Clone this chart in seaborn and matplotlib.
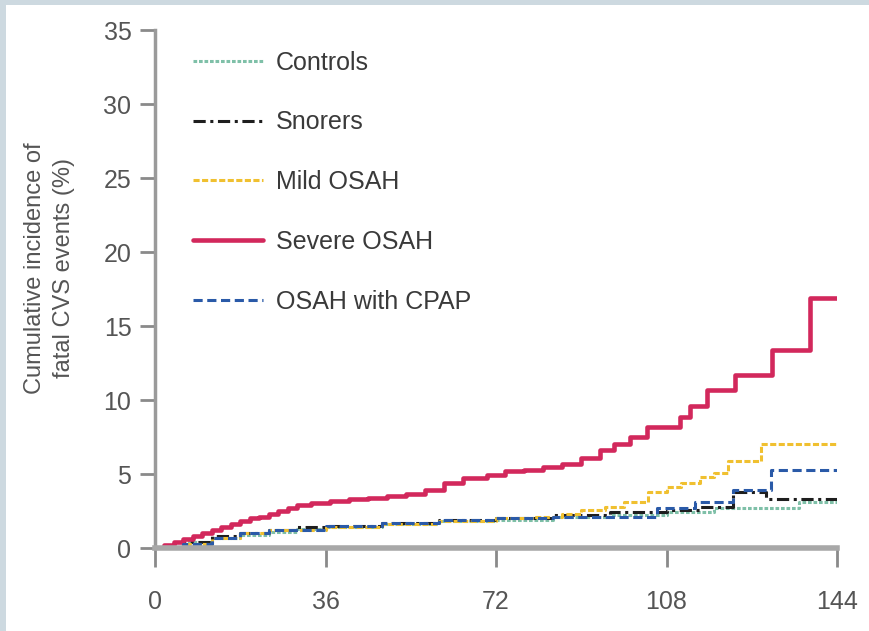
import numpy as np
import pandas as pd
import matplotlib
matplotlib.use("Agg")
import matplotlib.pyplot as plt
from matplotlib.patches import Rectangle
import seaborn as sns

# ---------------- data ----------------
controls_t = [0, 6, 12, 18, 24, 30, 36, 48, 60, 72, 84, 96, 108, 118, 136, 144]
controls_v = [0, 0.4, 0.7, 0.9, 1.1, 1.3, 1.4, 1.6, 1.8, 1.9, 2.1, 2.2, 2.4, 2.7, 3.1, 3.1]

snorers_t = [0, 6, 12, 18, 24, 30, 36, 48, 60, 72, 84, 96, 108, 115, 122, 129, 144]
snorers_v = [0, 0.4, 0.8, 1.0, 1.2, 1.4, 1.5, 1.7, 1.9, 2.0, 2.2, 2.4, 2.6, 2.8, 3.8, 3.3, 3.3]

mild_t = [0, 6, 12, 18, 24, 36, 48, 60, 72, 80, 86, 90, 95, 99, 104, 108, 111, 115, 118, 121, 128, 144]
mild_v = [0, 0.3, 0.7, 1.0, 1.2, 1.4, 1.6, 1.8, 2.0, 2.1, 2.3, 2.6, 2.8, 3.1, 3.8, 4.1, 4.4, 4.8, 5.1, 5.9, 7.0, 7.0]

severe_t = [0, 2, 4, 6, 8, 10, 12, 14, 16, 18, 20, 22, 24, 26, 28, 30, 33, 37, 41, 45, 49, 53, 57, 61, 65, 70, 74,
            78, 82, 86, 90, 94, 97, 100.3, 103.9, 110.8, 113, 116.5, 122.5, 130.3, 138.3, 144]
severe_v = [0, 0.2, 0.4, 0.6, 0.8, 1.0, 1.2, 1.4, 1.6, 1.8, 2.0, 2.1, 2.3, 2.5, 2.7, 2.9, 3.05, 3.2, 3.3, 3.4, 3.5,
            3.65, 3.9, 4.4, 4.7, 4.9, 5.2, 5.3, 5.5, 5.7, 6.1, 6.6, 7.0, 7.5, 8.2, 8.85, 9.6, 10.7, 11.7, 13.4,
            16.9, 16.9]

cpap_t = [0, 6, 12, 18, 24, 36, 48, 60, 72, 84, 90, 106, 114, 122, 130, 144]
cpap_v = [0, 0.3, 0.7, 1.0, 1.2, 1.5, 1.7, 1.9, 2.0, 2.1, 2.1, 2.7, 3.1, 3.9, 5.3, 5.3]

series_names = ["Controls", "Snorers", "Mild OSAH", "Severe OSAH", "OSAH with CPAP"]
x_ticks = [0, 36, 72, 108, 144]
y_ticks = [0, 5, 10, 15, 20, 25, 30, 35]

# ---------------- style ----------------
sns.set_style("ticks")
plt.rcParams["font.family"] = ["Liberation Sans", "DejaVu Sans"]

fig = plt.figure(figsize=(8.69, 6.31), dpi=100)
fig.patch.set_facecolor("#cdd9e0")
bg = Rectangle((6 / 869, 0), 1, (631 - 5) / 631, transform=fig.transFigure,
               facecolor="white", edgecolor="none", zorder=-100)
fig.add_artist(bg)
ax = fig.add_axes([155 / 869, 83 / 631, 682 / 869, 518 / 631])
ax.set_zorder(5)
ax.set_facecolor("none")

styles = {
    "Controls": dict(color="#7fc0a8", linestyle=(0, (1.2, 0.6)), linewidth=2.2),
    "Snorers": dict(color="#1e1e1e", linestyle=(0, (4, 1.5, 1, 1.5)), linewidth=2.2),
    "Mild OSAH": dict(color="#f0c030", linestyle=(0, (2, 0.8)), linewidth=2.2),
    "Severe OSAH": dict(color="#d2285c", linestyle="-", linewidth=3.3),
    "OSAH with CPAP": dict(color="#2a5aa8", linestyle=(0, (3, 1.5)), linewidth=2.2),
}
data = {
    "Controls": (controls_t, controls_v),
    "Snorers": (snorers_t, snorers_v),
    "Mild OSAH": (mild_t, mild_v),
    "Severe OSAH": (severe_t, severe_v),
    "OSAH with CPAP": (cpap_t, cpap_v),
}
for name in series_names:
    t, v = data[name]
    df = pd.DataFrame({"t": t, "v": v})
    sns.lineplot(data=df, x="t", y="v", ax=ax, label=name, drawstyle="steps-post",
                 estimator=None, sort=False, **styles[name])

ax.set_xlim(0, 144)
ax.set_ylim(0, 35)
ax.set_xticks(x_ticks)
ax.set_yticks(y_ticks)
ax.set_xlabel("")
ax.set_ylabel("Cumulative incidence of\nfatal CVS events (%)", fontsize=17, color="#555555",
              linespacing=1.4)
ax.yaxis.set_label_coords(-0.117, 0.54)
for s in ["top", "right"]:
    ax.spines[s].set_visible(False)
ax.spines["left"].set_color("#9a9a9a")
ax.spines["bottom"].set_color("#a8a8a8")
ax.spines["left"].set_linewidth(2.5)
ax.spines["bottom"].set_linewidth(4)
ax.tick_params(axis="y", length=11, width=2, color="#8a8a8a", labelsize=18, labelcolor="#555555", pad=6)
ax.tick_params(axis="x", length=14, width=2, color="#8a8a8a", labelsize=18, labelcolor="#555555", pad=16)

leg = ax.legend(loc="upper left", bbox_to_anchor=(0.055, 0.96), frameon=False, fontsize=18,
                handlelength=2.8, handletextpad=0.52, labelspacing=1.43, borderpad=0, borderaxespad=0)
for txt in leg.get_texts():
    txt.set_color("#3a3a3a")

fig.savefig("out.png", dpi=100, facecolor=fig.get_facecolor())
